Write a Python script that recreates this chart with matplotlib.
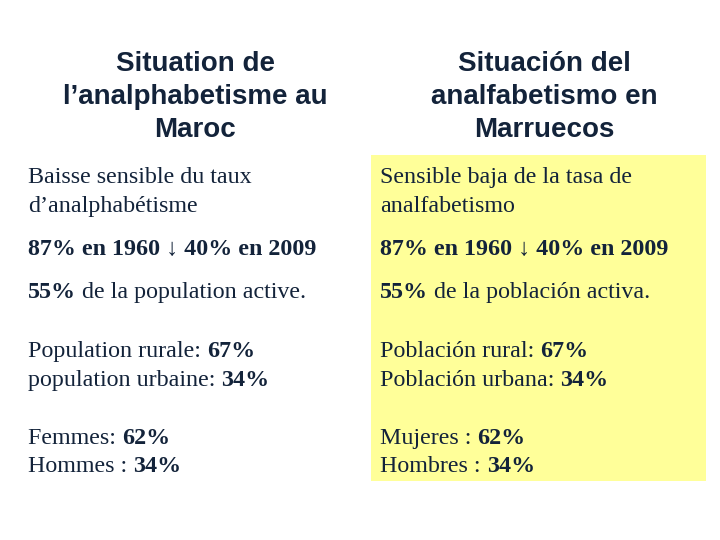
import matplotlib
matplotlib.use("Agg")
import matplotlib.pyplot as plt
from matplotlib.patches import Rectangle

# titres
title_fr = ["Situation de", "l\u2019analphabetisme au", "Maroc"]
title_es = ["Situaci\u00f3n del", "analfabetismo en", "Marruecos"]

# lignes : (partie en gras, partie normale)
lines_fr = [
    ("", "Baisse sensible du taux"),
    ("", "d\u2019analphab\u00e9tisme"),
    ("87% en 1960 \u2193 40% en 2009", ""),
    ("55%", " de la population active."),
    ("67%", "Population rurale: "),
    ("34%", "population urbaine: "),
    ("62%", "Femmes: "),
    ("34%", "Hommes : "),
]
lines_es = [
    ("", "Sensible baja de la tasa de"),
    ("", "analfabetismo"),
    ("87% en 1960 \u2193 40% en 2009", ""),
    ("55%", " de la poblaci\u00f3n activa."),
    ("67%", "Poblaci\u00f3n rural: "),
    ("34%", "Poblaci\u00f3n urbana: "),
    ("62%", "Mujeres : "),
    ("34%", "Hombres : "),
]
# gras avant (True) ou après (False) le texte normal
bold_first = [False, False, True, True, False, False, False, False]
baselines = [183, 212, 255, 298, 357, 386, 444, 472]
title_baselines = [71, 104, 137]

TXT = "#13233a"
SERIF = ["Liberation Serif", "DejaVu Serif"]
SANS = ["Liberation Sans", "DejaVu Sans"]
FS = 17.3

fig = plt.figure(figsize=(7.2, 5.4), dpi=100)
ax = fig.add_axes([0, 0, 1, 1])
ax.set_xlim(0, 720)
ax.set_ylim(540, 0)
ax.axis("off")

# fond jaune colonne espagnole
ax.add_patch(Rectangle((371, 155), 335, 326, facecolor="#ffff99", edgecolor="none"))

for i, y in enumerate(title_baselines):
    ax.text(195, y, title_fr[i], ha="center", va="baseline", fontsize=20,
            fontweight="bold", family=SANS, color=TXT)
    ax.text(544, y, title_es[i], ha="center", va="baseline", fontsize=20,
            fontweight="bold", family=SANS, color=TXT)


def draw_line(x, y, bold, normal, first):
    parts = [(bold, "bold"), (normal, "normal")] if first else [(normal, "normal"), (bold, "bold")]
    prev = None
    for s, w in parts:
        if not s:
            continue
        if prev is None:
            prev = ax.text(x, y, s, ha="left", va="baseline", fontsize=FS,
                           fontweight=w, family=SERIF, color=TXT)
        else:
            prev = ax.annotate(s, xy=(1, 0), xycoords=prev, ha="left", va="bottom",
                               fontsize=FS, fontweight=w, family=SERIF, color=TXT)


for i, y in enumerate(baselines):
    draw_line(28, y, lines_fr[i][0], lines_fr[i][1], bold_first[i])
    draw_line(380, y, lines_es[i][0], lines_es[i][1], bold_first[i])

fig.savefig("out.png", dpi=100)
